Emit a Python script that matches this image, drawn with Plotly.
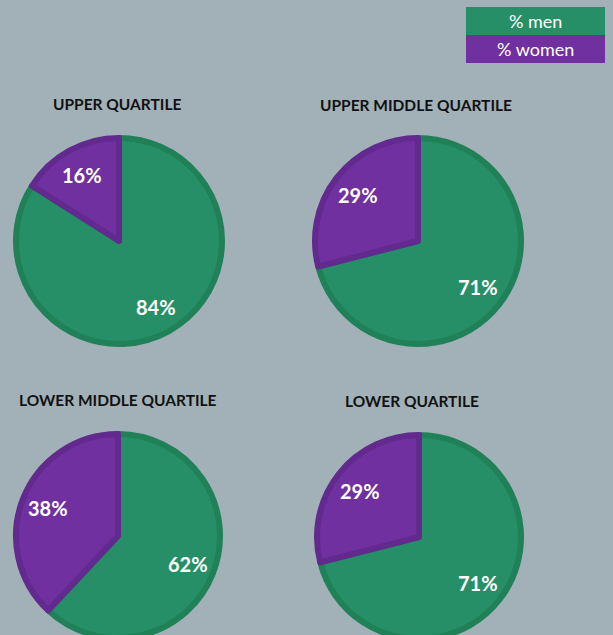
import math
import plotly.graph_objects as go

# ---- data ----
quartiles = ["UPPER QUARTILE", "UPPER MIDDLE QUARTILE", "LOWER MIDDLE QUARTILE", "LOWER QUARTILE"]
pct_men = [84, 71, 62, 71]
pct_women = [16, 29, 38, 29]
series_labels = ["% men", "% women"]

# ---- style ----
W, H = 613, 645
BG = "#A1B1B7"
GREEN, GREEN_DK = "#268F67", "#208158"
PURPLE, PURPLE_DK = "#7030A0", "#62298E"
FONT = "Lato"
LINE_W = 6
LABEL_R = 0.715  # label distance as a fraction of pie radius

# pie layout: (center x px, center y px, visual radius px)
pie_pos = [(119, 241, 106), (418, 241, 106), (118, 536, 105), (419, 537, 105)]
title_pos = [(117, 104), (416, 105), (118, 400), (412, 401)]

fig = go.Figure()
for i, q in enumerate(quartiles):
    cx, cy, rv = pie_pos[i]
    r = rv - LINE_W / 2
    vals = [pct_men[i], pct_women[i]]
    fig.add_trace(go.Pie(
        labels=series_labels,
        values=vals,
        sort=False,
        direction="clockwise",
        rotation=0,
        marker=dict(colors=[GREEN, PURPLE], line=dict(color=[GREEN_DK, PURPLE_DK], width=LINE_W)),
        textinfo="none",
        domain=dict(x=[(cx - r) / W, (cx + r) / W], y=[1 - (cy + r) / H, 1 - (cy - r) / H]),
        showlegend=False,
        hoverinfo="label+percent",
    ))
    # data labels along each slice bisector (clockwise from 12 o'clock)
    total = sum(vals)
    start = 0.0
    for v in vals:
        theta = math.radians((start + v / 2) / total * 360)
        start += v
        lx = cx + LABEL_R * rv * math.sin(theta)
        ly = cy - LABEL_R * rv * math.cos(theta)
        fig.add_annotation(x=lx / W, y=1 - ly / H, xref="paper", yref="paper",
                           text=f"<b>{round(v / total * 100)}%</b>", showarrow=False,
                           xanchor="center", yanchor="middle",
                           font=dict(family=FONT, size=20, color="white"))
    tx, ty = title_pos[i]
    fig.add_annotation(x=tx / W, y=1 - ty / H, xref="paper", yref="paper", text=f"<b>{q}</b>",
                       showarrow=False, xanchor="center", yanchor="middle",
                       font=dict(family=FONT, size=15.5, color="#111111"))

# legend boxes
legend_colors = [GREEN, PURPLE]
for j, lab in enumerate(series_labels):
    y0, y1 = 7 + 28 * j, 35 + 28 * j
    fig.add_shape(type="rect", xref="paper", yref="paper", x0=466 / W, x1=605 / W,
                  y0=1 - y1 / H, y1=1 - y0 / H, fillcolor=legend_colors[j], line=dict(width=0))
    fig.add_annotation(x=535.5 / W, y=1 - (y0 + y1) / 2 / H, xref="paper", yref="paper", text=lab,
                       showarrow=False, xanchor="center", yanchor="middle",
                       font=dict(family=FONT, size=18, color="white"))

fig.update_layout(
    width=W, height=H,
    margin=dict(l=0, r=0, t=0, b=0),
    paper_bgcolor=BG, plot_bgcolor=BG,
)

fig.write_html("out.html", config={"displayModeBar": False},
               post_script="document.body.style.margin='0';document.body.style.overflow='hidden';")
